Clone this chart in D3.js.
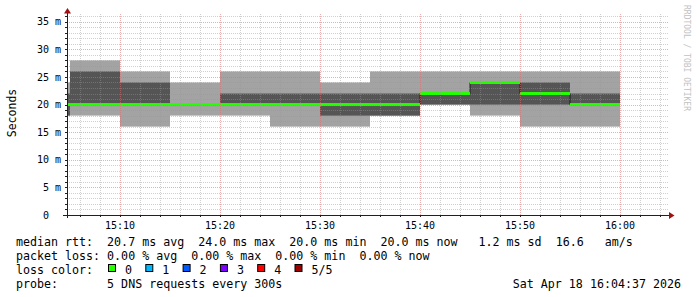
<!DOCTYPE html>
<html>
<head>
<meta charset="utf-8">
<script src="https://cdn.jsdelivr.net/npm/d3@7"></script>
<style>
  body { margin: 0; background: #fff; }
  svg { display: block; }
  text { font-family: "DejaVu Sans Mono", monospace; fill: #000; white-space: pre; }
</style>
</head>
<body>
<script>
// 5 minute slots, 5 pings each (sorted), values in ms
const slotStarts = ["15:00","15:05","15:10","15:15","15:20","15:25","15:30","15:35","15:40","15:45","15:50","15:55"];
const pingMin    = [18, 18, 16, 18, 18, 16, 16, 18, 20, 18, 16, 16];
const ping2nd    = [18, 20, 20, 20, 20, 20, 18, 18, 20, 20, 20, 20];
const medianRtt  = [20, 20, 20, 20, 20, 20, 20, 20, 22, 24, 22, 20];
const ping4th    = [22, 26, 24, 20, 22, 22, 22, 22, 22, 24, 24, 22];
const pingMax    = [24, 28, 26, 24, 26, 26, 24, 26, 26, 26, 26, 26];

const yLabelTicks = [0, 5, 10, 15, 20, 25, 30, 35];

const rttStats  = {avg: "20.7", max: "24.0", min: "20.0", now: "20.0", sd: "1.2", amps: "16.6"};
const lossStats = {avg: "0.00", max: "0.00", min: "0.00", now: "0.00"};
const lossLabels = ["0", "1", "2", "3", "4", "5/5"];
const lossColors = ["#26ff00", "#00b8ff", "#0059ff", "#7e00ff", "#ff0000", "#a10000"];
const probeText = "5 DNS requests every 300s";
const stampText = "Sat Apr 18 16:04:37 2026";

const W = 697, H = 297;
const pLeft = 67, pRight = 669, pTop = 14, pBottom = 215;

const toDate = s => { const [h, m] = s.split(":").map(Number); return new Date(2026, 3, 18, h, m, 0); };

const x = d3.scaleTime()
  .domain([new Date(2026, 3, 18, 15, 4, 42), new Date(2026, 3, 18, 16, 4, 54)])
  .range([pLeft, pRight]);
const y = d3.scaleLinear().domain([0, 36.4]).range([pBottom, pTop]);

const slots = slotStarts.map((s, i) => ({
  t0: toDate(s), t1: d3.timeMinute.offset(toDate(s), 5),
  lo: pingMin[i], p2: ping2nd[i], med: medianRtt[i], p4: ping4th[i], hi: pingMax[i]
}));

const svg = d3.select("body").append("svg")
  .attr("width", W).attr("height", H)
  .attr("xml:space", "preserve");

svg.append("rect").attr("width", W).attr("height", H).attr("fill", "#fff");

svg.append("clipPath").attr("id", "plot")
  .append("rect").attr("x", pLeft).attr("y", pTop).attr("width", pRight - pLeft).attr("height", pBottom - pTop);

const g = svg.append("g").attr("clip-path", "url(#plot)");

// smoke: outer band (min..max) then inner band (2nd..4th)
g.selectAll("rect.outer").data(slots).enter().append("rect")
  .attr("x", d => x(d.t0)).attr("width", d => x(d.t1) - x(d.t0))
  .attr("y", d => y(d.hi)).attr("height", d => y(d.lo) - y(d.hi))
  .attr("fill", "#a3a3a3");

g.selectAll("rect.inner").data(slots.filter(d => d.p4 > d.p2)).enter().append("rect")
  .attr("x", d => x(d.t0)).attr("width", d => x(d.t1) - x(d.t0))
  .attr("y", d => y(d.p4)).attr("height", d => y(d.p2) - y(d.p4))
  .attr("fill", "#555555");

// median step line
let path = "";
slots.forEach((d, i) => {
  path += (i === 0 ? "M" + x(d.t0) + "," + y(d.med) : "V" + y(d.med)) + "H" + x(d.t1);
});
g.append("path").attr("d", path).attr("fill", "none").attr("stroke", "#202020").attr("stroke-width", 1);

// median marker coloured by loss (0 loss everywhere)
g.selectAll("rect.med").data(slots).enter().append("rect")
  .attr("x", d => x(d.t0)).attr("width", d => x(d.t1) - x(d.t0))
  .attr("y", d => y(d.med) - 1.5).attr("height", 3)
  .attr("fill", lossColors[0]);

// grid
const minorY = d3.range(1, 37).filter(v => v % 5 !== 0);
const majorY = d3.range(5, 37, 5);
const minorX = x.ticks(d3.timeMinute.every(2)).filter(t => t.getMinutes() % 10 !== 0);
const majorX = x.ticks(d3.timeMinute.every(10));

const grid = svg.append("g").attr("stroke-dasharray", "1,1").attr("stroke-width", 1);
grid.selectAll("line.hmin").data(minorY).enter().append("line")
  .attr("x1", pLeft).attr("x2", pRight)
  .attr("y1", v => Math.round(y(v)) + 0.5).attr("y2", v => Math.round(y(v)) + 0.5)
  .attr("stroke", "rgba(150,150,150,0.45)");
grid.selectAll("line.vmin").data(minorX).enter().append("line")
  .attr("x1", t => Math.round(x(t)) + 0.5).attr("x2", t => Math.round(x(t)) + 0.5)
  .attr("y1", pTop).attr("y2", pBottom)
  .attr("stroke", "rgba(150,150,150,0.45)");
grid.selectAll("line.hmaj").data(majorY).enter().append("line")
  .attr("x1", pLeft).attr("x2", pRight)
  .attr("y1", v => Math.round(y(v)) + 0.5).attr("y2", v => Math.round(y(v)) + 0.5)
  .attr("stroke", "rgba(220,110,110,0.55)");
grid.selectAll("line.vmaj").data(majorX).enter().append("line")
  .attr("x1", t => Math.round(x(t)) + 0.5).attr("x2", t => Math.round(x(t)) + 0.5)
  .attr("y1", pTop).attr("y2", pBottom)
  .attr("stroke", "rgba(220,110,110,0.55)");

// axis ticks
const ticks = svg.append("g").attr("stroke", "#202020").attr("stroke-width", 1);
ticks.selectAll("line.yt").data(d3.range(1, 37)).enter().append("line")
  .attr("x1", pLeft - 2).attr("x2", pLeft)
  .attr("y1", v => Math.round(y(v)) + 0.5).attr("y2", v => Math.round(y(v)) + 0.5);
ticks.selectAll("line.xt").data(minorX.concat(majorX)).enter().append("line")
  .attr("x1", t => Math.round(x(t)) + 0.5).attr("x2", t => Math.round(x(t)) + 0.5)
  .attr("y1", pBottom).attr("y2", pBottom + 2);

// axes with arrows
svg.append("line").attr("x1", pLeft + 0.5).attr("x2", pLeft + 0.5).attr("y1", pBottom + 3).attr("y2", 12)
  .attr("stroke", "#202020");
svg.append("line").attr("x1", pLeft - 4).attr("x2", pRight + 1).attr("y1", pBottom + 0.5).attr("y2", pBottom + 0.5)
  .attr("stroke", "#202020");
svg.append("path").attr("d", `M${pLeft - 3},13.5L${pLeft + 4},13.5L${pLeft + 0.5},8Z`).attr("fill", "#a01010");
svg.append("path").attr("d", `M${pRight},212L${pRight},219L${pRight + 5.5},215.5Z`).attr("fill", "#a01010");

// tick labels
svg.selectAll("text.ylab").data(yLabelTicks).enter().append("text")
  .attr("x", 61).attr("y", v => y(v) + 3.6)
  .attr("text-anchor", "end").style("font-size", "10px")
  .text(v => v === 0 ? "0  " : v + " m");

svg.selectAll("text.xlab").data(majorX).enter().append("text")
  .attr("x", t => x(t)).attr("y", 229)
  .attr("text-anchor", "middle").style("font-size", "10px")
  .text(d3.timeFormat("%H:%M"));

svg.append("text").attr("transform", "translate(16,113) rotate(-90)")
  .attr("text-anchor", "middle").style("font-size", "11.5px").text("Seconds");

svg.append("text").attr("transform", "translate(684,5) rotate(90)")
  .style("font-size", "8px").style("fill", "#c2c2c2").text("RRDTOOL / TOBI OETIKER");

// legend
const fs = "11.65px";
const line1 = `median rtt:  ${rttStats.avg} ms avg  ${rttStats.max} ms max  ${rttStats.min} ms min  ${rttStats.now} ms now  ${rttStats.sd.padStart(4)} ms sd  ${rttStats.amps}   am/s`;
const line2 = `packet loss: ${lossStats.avg} % avg  ${lossStats.max} % max  ${lossStats.min} % min  ${lossStats.now} % now`;
svg.append("text").attr("x", 16).attr("y", 245.5).style("font-size", fs).text(line1);
svg.append("text").attr("x", 16).attr("y", 259.5).style("font-size", fs).text(line2);
svg.append("text").attr("x", 16).attr("y", 273.5).style("font-size", fs).text("loss color:");

const lossG = svg.selectAll("g.loss").data(lossLabels).enter().append("g")
  .attr("transform", (d, i) => `translate(${108 + i * 37.3},0)`);
lossG.append("rect").attr("x", 0.5).attr("y", 264.5).attr("width", 7).attr("height", 7)
  .attr("fill", (d, i) => lossColors[i]).attr("stroke", "#000").attr("stroke-width", 1);
lossG.append("text").attr("x", 17).attr("y", 273.5).style("font-size", fs).text(d => d);

svg.append("text").attr("x", 16).attr("y", 287.5).style("font-size", fs).text("probe:       " + probeText);
svg.append("text").attr("x", 681).attr("y", 287.5).attr("text-anchor", "end").style("font-size", fs).text(stampText);
</script>
</body>
</html>
